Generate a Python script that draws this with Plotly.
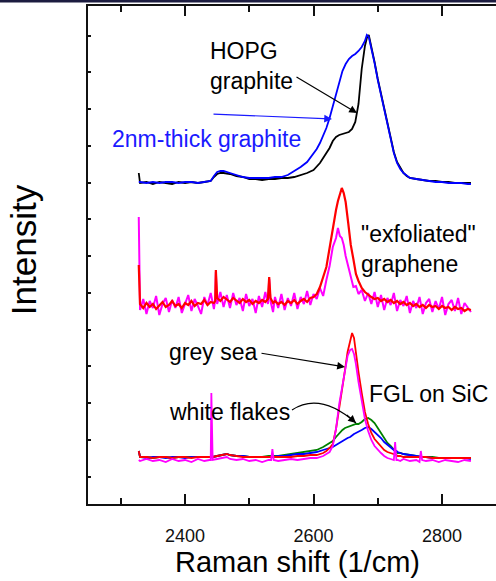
import plotly.graph_objects as go

# ---------------- data (Raman shift in 1/cm, intensity in arbitrary units, offset stacks) -------------
# top group: HOPG graphite and 2nm-thick graphite
XT = [2328, 2330, 2340, 2350, 2360, 2370, 2380, 2390, 2400, 2410,
      2420, 2430, 2440, 2445, 2450, 2455, 2460, 2470, 2480, 2490,
      2500, 2510, 2520, 2530, 2540, 2550, 2560, 2570, 2580, 2590,
      2600, 2605, 2610, 2615, 2620, 2625, 2630, 2635, 2640, 2645,
      2650, 2655, 2660, 2665, 2670, 2675, 2680, 2683, 2686, 2690,
      2695, 2700, 2705, 2710, 2715, 2720, 2725, 2730, 2735, 2740,
      2745, 2750, 2760, 2770, 2780, 2790, 2800, 2810, 2820, 2830,
      2840, 2845]
HOPG = [331, 321, 322, 320, 322, 321, 320, 322, 321, 322,
        321, 322, 323, 327, 330, 331, 331, 330, 328, 327,
        325, 325, 324, 325, 325, 326, 326, 327, 329, 331,
        334, 337, 341, 346, 351, 356, 363, 367, 369, 370,
        371, 372, 375, 382, 400, 435, 458, 466, 469, 458,
        442, 425, 410, 395, 380, 366, 352, 342, 336, 331,
        328, 326, 325, 324, 323, 323, 322, 322, 321, 321,
        321, 321]
THIN = [322, 322, 321, 322, 321, 322, 322, 321, 322, 322,
        321, 322, 323, 328, 332, 333, 333, 331, 329, 327,
        326, 326, 326, 326, 327, 327, 329, 333, 337, 342,
        350, 355, 361, 368, 376, 386, 398, 410, 422, 433,
        440, 445, 448, 450, 453, 457, 463, 469, 467, 456,
        441, 424, 409, 394, 379, 365, 351, 341, 335, 331,
        328, 326, 325, 324, 323, 322, 322, 321, 321, 321,
        320, 320]

# middle group: "exfoliated" graphene
XM = [2328, 2330, 2335, 2340, 2345, 2350, 2355, 2360, 2365, 2370,
      2375, 2380, 2385, 2390, 2395, 2400, 2405, 2410, 2415, 2420,
      2425, 2430, 2435, 2440, 2445, 2447, 2448, 2450, 2455, 2460,
      2465, 2470, 2475, 2480, 2485, 2490, 2495, 2500, 2505, 2510,
      2515, 2520, 2525, 2529, 2531, 2533, 2537, 2540, 2545, 2550,
      2555, 2560, 2565, 2570, 2575, 2580, 2585, 2590, 2595, 2600,
      2605, 2610, 2615, 2620, 2625, 2630, 2635, 2638, 2641, 2644,
      2647, 2650, 2654, 2658, 2662, 2666, 2670, 2675, 2680, 2685,
      2690, 2695, 2700, 2705, 2710, 2715, 2720, 2725, 2730, 2735,
      2740, 2745, 2750, 2755, 2760, 2765, 2770, 2775, 2780, 2785,
      2790, 2795, 2800, 2805, 2810, 2815, 2820, 2825, 2830, 2835,
      2840, 2845]
EXF_RED = [239, 200, 196, 201, 197, 200, 195, 199, 202, 197,
           199, 203, 198, 200, 196, 201, 199, 203, 198, 201,
           200, 204, 199, 202, 201, 203, 234, 206, 203, 207,
           204, 202, 206, 203, 201, 205, 202, 204, 200, 203,
           201, 204, 202, 205, 227, 206, 201, 203, 200, 202,
           199, 203, 201, 204, 200, 203, 205, 202, 206, 207,
           210, 217, 226, 237, 256, 276, 294, 303, 311, 316,
           311, 302, 281, 259, 245, 230, 223, 216, 212, 209,
           207, 205, 206, 203, 205, 202, 204, 201, 203, 200,
           202, 199, 201, 198, 200, 197, 199, 196, 199, 197,
           198, 195, 198, 196, 197, 194, 197, 195, 196, 193,
           195, 194]
EXF_MAG = [287, 194, 205, 190, 203, 196, 208, 189, 200, 206,
           192, 204, 196, 207, 191, 201, 209, 193, 205, 198,
           190, 207, 199, 211, 195, 205, 232, 200, 212, 197,
           209, 196, 211, 199, 206, 193, 210, 198, 205, 191,
           208, 197, 212, 200, 225, 203, 192, 207, 196, 210,
           194, 206, 198, 211, 195, 207, 200, 213, 199, 210,
           205, 216, 208, 224, 238, 257, 266, 276, 268, 266,
           259, 248, 237, 228, 217, 218, 210, 214, 203, 211,
           200, 212, 197, 209, 194, 206, 199, 211, 193, 204,
           198, 208, 191, 203, 196, 207, 190, 201, 205, 192,
           203, 195, 207, 189, 200, 204, 193, 206, 190, 201,
           196, 192]

# bottom group: FGL on SiC
XB = [2328, 2330, 2340, 2350, 2360, 2370, 2380, 2390, 2400, 2410,
      2420, 2430, 2438, 2440, 2441, 2443, 2450, 2460, 2465, 2470,
      2480, 2490, 2500, 2510, 2520, 2530, 2534, 2536, 2538, 2545,
      2555, 2565, 2575, 2585, 2595, 2605, 2615, 2620, 2625, 2630,
      2635, 2640, 2645, 2649, 2653, 2657, 2660, 2663, 2666, 2670,
      2675, 2680, 2685, 2690, 2695, 2700, 2705, 2710, 2715, 2720,
      2725, 2727, 2729, 2731, 2735, 2740, 2750, 2760, 2765, 2767,
      2769, 2775, 2785, 2795, 2805, 2815, 2825, 2835, 2845]
FGL_GREEN = [53, 47, 47, 46, 47, 47, 46, 47, 47, 47,
             47, 47, 47, 47, 47, 47, 48, 49, 50, 49,
             48, 48, 47, 47, 47, 48, 48, 48, 48, 48,
             49, 50, 51, 52, 53, 54, 57, 59, 61, 63,
             67, 71, 74, 76, 77, 78, 78, 79, 80, 80,
             82, 85, 86, 84, 81, 76, 71, 66, 61, 58,
             54, 53, 52, 51, 51, 50, 49, 48, 47, 47,
             47, 47, 47, 46, 46, 46, 46, 46, 46]
FGL_BLUE = [53, 47, 46, 47, 47, 46, 47, 47, 46, 47,
            47, 47, 47, 47, 47, 47, 48, 49, 50, 49,
            48, 48, 47, 47, 47, 47, 47, 47, 47, 48,
            48, 49, 50, 50, 51, 52, 54, 55, 56, 57,
            59, 61, 63, 65, 66, 67, 69, 70, 71, 72,
            74, 76, 77, 75, 72, 70, 66, 62, 59, 56,
            54, 53, 53, 52, 51, 50, 49, 48, 47, 47,
            47, 47, 46, 46, 46, 46, 46, 46, 45]
FGL_RED = [53, 47, 47, 46, 47, 47, 46, 47, 47, 46,
           47, 47, 47, 47, 47, 47, 48, 49, 50, 49,
           48, 47, 47, 47, 47, 47, 47, 47, 47, 47,
           47, 47, 48, 48, 49, 49, 51, 53, 56, 60,
           75, 98, 120, 134, 152, 165, 171, 166, 150, 132,
           111, 92, 80, 71, 65, 61, 57, 54, 52, 51,
           50, 49, 49, 48, 48, 47, 47, 47, 47, 47,
           47, 47, 46, 46, 46, 46, 46, 46, 46]
FGL_MAG = [44, 43, 45, 43, 44, 42, 45, 43, 44, 42,
           45, 43, 44, 44, 111, 44, 45, 46, 47, 45,
           44, 45, 43, 44, 42, 44, 44, 55, 44, 43,
           44, 45, 44, 45, 46, 46, 48, 50, 52, 58,
           75, 100, 120, 135, 148, 154, 155, 150, 140, 122,
           103, 85, 73, 64, 58, 54, 51, 48, 46, 45,
           44, 62, 44, 44, 43, 45, 43, 44, 42, 53,
           44, 43, 44, 42, 44, 43, 42, 44, 43]

X_TICKS = [2400, 2600, 2800]
X_TICK_LABELS = ["2400", "2600", "2800"]
X_MINOR = [2300, 2500, 2700]

FONT = "Liberation Sans, Arial, sans-serif"

fig = go.Figure()

def add(x, y, color, width):
    fig.add_trace(go.Scatter(x=x, y=y, mode="lines",
                             line=dict(color=color, width=width),
                             showlegend=False, hoverinfo="skip"))

add(XT, HOPG, "#000000", 1.8)
add(XT, THIN, "#0000ff", 1.8)
add(XM, EXF_MAG, "#ff00ff", 2.0)
add(XM, EXF_RED, "#ff0000", 2.2)
add(XB, FGL_GREEN, "#008000", 1.8)
add(XB, FGL_BLUE, "#0000ff", 1.8)
add(XB, FGL_RED, "#ff0000", 1.8)
add(XB, FGL_MAG, "#ff00ff", 1.8)

ann = []
def text(x, y, s, color="#000000", size=23, xanchor="left", align="left"):
    ann.append(dict(x=x, y=y, xref="x", yref="y", text=s, showarrow=False,
                    font=dict(family=FONT, size=size, color=color),
                    xanchor=xanchor, yanchor="middle", align=align))

def arrow(x0, y0, x1, y1, color="#000000"):
    ann.append(dict(x=x1, y=y1, ax=x0, ay=y0, xref="x", yref="y",
                    axref="x", ayref="y", text="", showarrow=True,
                    arrowhead=2, arrowsize=1.3, arrowwidth=1.2,
                    arrowcolor=color, standoff=0, startstandoff=0))

text(2435.8, 438, "HOPG<br>graphite")
text(2433.4, 365, "2nm-thick graphite", color="#1a1aff", xanchor="center")
text(2670.8, 255, "\"exfoliated\"<br>graphene")
text(2372, 152, "grey sea")
text(2372, 92, "white flakes")
text(2683.2, 110, "FGL on SiC")

arrow(2442, 390, 2628.8, 385, color="#1a1aff")
arrow(2571.2, 428, 2667.7, 391)
arrow(2516.7, 151, 2649, 137)
arrow(2649.5, 90.5, 2666.1, 81)

# axis titles
ann.append(dict(x=0.5135, y=-0.1165, xref="paper", yref="paper",
                text="Raman shift (1/cm)", showarrow=False,
                font=dict(family=FONT, size=29, color="#000000"),
                xanchor="center", yanchor="middle"))
ann.append(dict(x=-0.159, y=0.51, xref="paper", yref="paper",
                text="Intensity", showarrow=False, textangle=-90,
                font=dict(family=FONT, size=35, color="#000000"),
                xanchor="center", yanchor="middle"))

shapes = [
    # curved arrow body for "white flakes"
    dict(type="path", xref="x", yref="y",
         path="M 2566.5,94 Q 2610.1,112.5 2666.1,81",
         line=dict(color="#000000", width=1.2)),
    # dark band at very top of the picture
    dict(type="rect", xref="paper", yref="paper",
         x0=-0.2157, x1=1.0, y0=(504 - 2.5) / 498, y1=(504 + 1) / 498,
         fillcolor="#1c1c40", line=dict(width=0)),
]

fig.update_layout(
    width=496, height=581,
    margin=dict(l=88, r=0, t=6, b=77),
    paper_bgcolor="white", plot_bgcolor="white",
    annotations=ann, shapes=shapes,
    xaxis=dict(range=[2249, 2884], tickvals=X_TICKS, ticktext=X_TICK_LABELS,
               ticks="inside", ticklen=10, tickwidth=1.5, tickcolor="#111111",
               minor=dict(tickvals=X_MINOR, ticks="inside", ticklen=6,
                          tickwidth=1.5, tickcolor="#111111"),
               showline=True, linewidth=2, linecolor="#111111", mirror="ticks",
               showgrid=False, zeroline=False,
               tickfont=dict(family=FONT, size=18, color="#111111"),
               ticklabelstandoff=14),
    yaxis=dict(range=[0, 498], tick0=27.5, dtick=36.75, showticklabels=False,
               ticks="inside", ticklen=3, tickwidth=1.5, tickcolor="#111111",
               showline=True, linewidth=2, linecolor="#111111", mirror=False,
               showgrid=False, zeroline=False),
)

fig.write_html("out.html")
